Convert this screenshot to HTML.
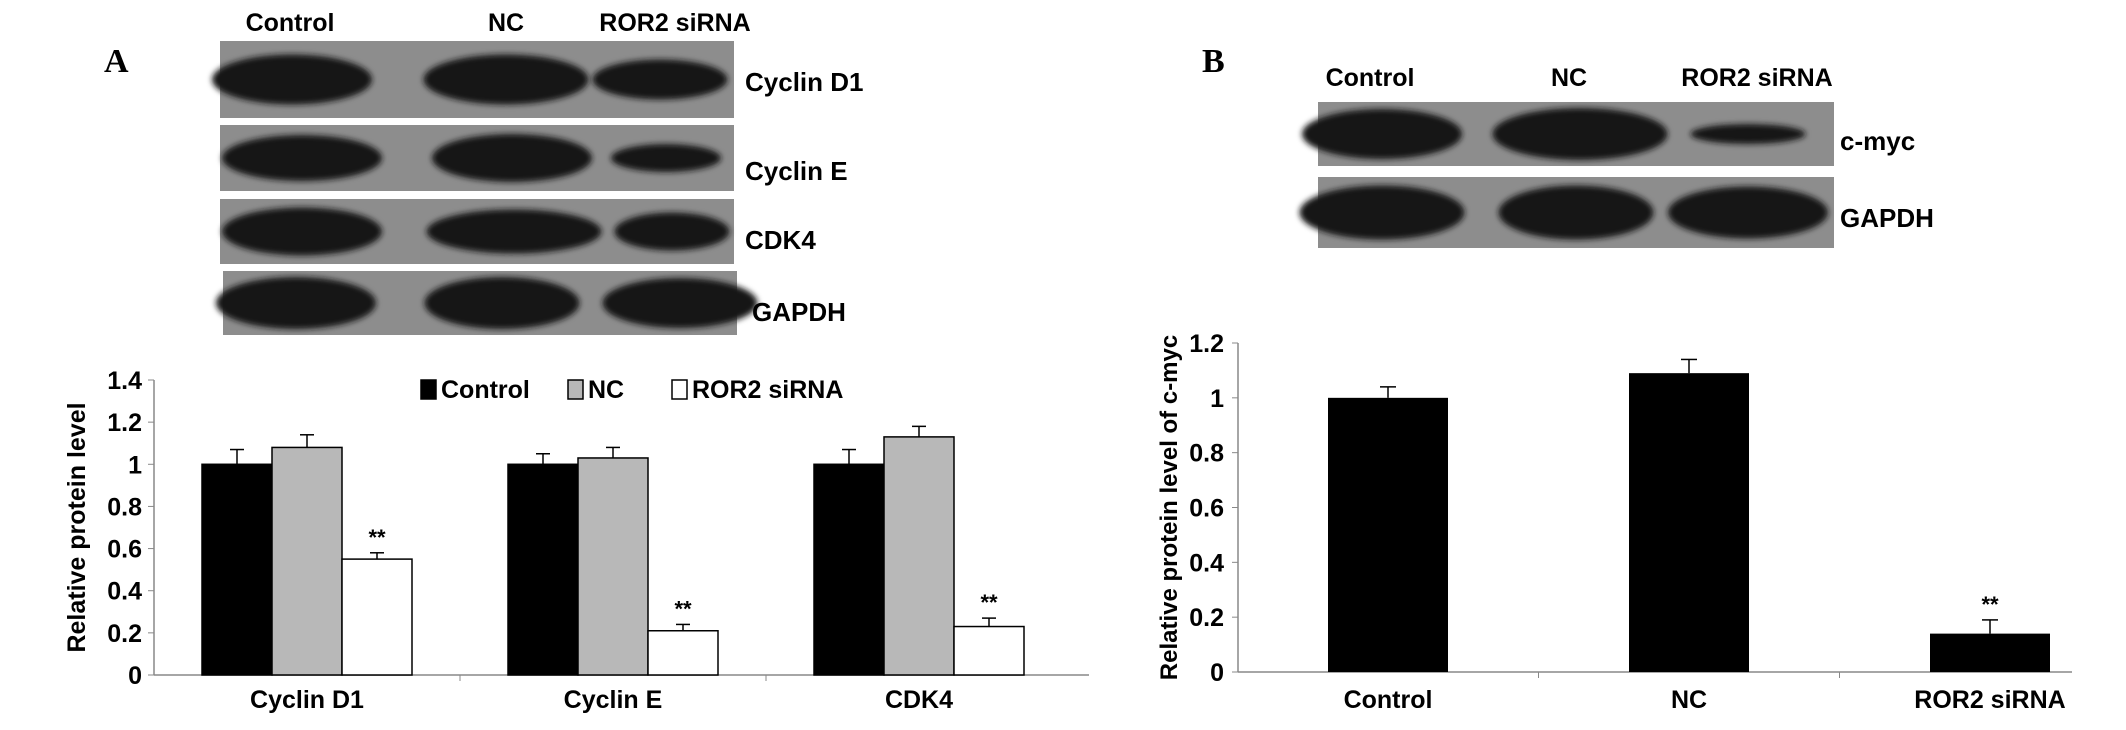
<!DOCTYPE html>
<html><head><meta charset="utf-8"><style>
body{margin:0;background:#fff}
svg text{font-family:"Liberation Sans",Arial,sans-serif;font-weight:bold;fill:#000}
</style></head><body>
<svg id="fig" width="2126" height="725" viewBox="0 0 2126 725" xmlns="http://www.w3.org/2000/svg">
<defs><filter id="bl" x="-20%" y="-50%" width="140%" height="200%"><feGaussianBlur stdDeviation="3"/></filter></defs>
<g id="panelA">
<text x="104" y="72" style="font-family:'Liberation Serif',serif" font-size="34">A</text>
<text x="290" y="31" font-size="25" text-anchor="middle">Control</text>
<text x="506" y="31" font-size="25" text-anchor="middle">NC</text>
<text x="675" y="31" font-size="25" text-anchor="middle">ROR2 siRNA</text>
</g>
<g id="panelB">
<text x="1202" y="72" style="font-family:'Liberation Serif',serif" font-size="34">B</text>
<text x="1370" y="86" font-size="25" text-anchor="middle">Control</text>
<text x="1569" y="86" font-size="25" text-anchor="middle">NC</text>
<text x="1757" y="86" font-size="25" text-anchor="middle">ROR2 siRNA</text>
</g>
<g id="blots"></g>
<g id="chartA"></g>
<g id="chartB"></g>
</svg>
<script>
const NS="http://www.w3.org/2000/svg";
function mk(p,t,a){const e=document.createElementNS(NS,t);for(const k in a)e.setAttribute(k,a[k]);p.appendChild(e);return e;}
const blots=[
 [220,41,514,77,"Cyclin D1",745,91,[[292,160,50],[506,165,50],[660,135,40]]],
 [220,125,514,66,"Cyclin E",745,180,[[302,160,46],[512,160,48],[666,110,28]]],
 [220,199,514,65,"CDK4",745,249,[[302,160,48],[514,175,44],[672,115,38]]],
 [223,271,514,64,"GAPDH",752,321,[[296,160,52],[502,155,52],[680,155,50]]],
 [1318,102,516,64,"c-myc",1840,150,[[1382,160,50],[1580,175,52],[1748,115,20]]],
 [1318,177,516,71,"GAPDH",1840,227,[[1382,165,54],[1576,155,54],[1748,160,52]]]
];
const bg=document.getElementById('blots');
blots.forEach(b=>{
 const g=mk(bg,'g',{});
 
 
 mk(g,'rect',{x:b[0],y:b[1],width:b[2],height:b[3],fill:'#8d8d8d'});
 b[7].forEach(bd=>mk(g,'ellipse',{cx:bd[0],cy:b[1]+b[3]/2,rx:bd[1]/2,ry:bd[2]/2,fill:'#121212',filter:'url(#bl)'}));
 const t=mk(g,'text',{x:b[5],y:b[6],'font-size':26});t.textContent=b[4];
});

// Chart A data
const catsA=["Cyclin D1","Cyclin E","CDK4"];
const seriesA=["Control","NC","ROR2 siRNA"];
const ctrlA=[1.0,1.0,1.0];
const ncA=[1.08,1.03,1.13];
const rorA=[0.55,0.21,0.23];
const ctrlErrA=[0.07,0.05,0.07];
const ncErrA=[0.06,0.05,0.05];
const rorErrA=[0.03,0.03,0.04];
const ticksA=[0,0.2,0.4,0.6,0.8,1,1.2,1.4];
// Chart B data
const catsB=["Control","NC","ROR2 siRNA"];
const valsB=[1.0,1.09,0.14];
const errB=[0.04,0.05,0.05];
const ticksB=[0,0.2,0.4,0.6,0.8,1,1.2];

(function(){
 const g=document.getElementById('chartA');
 const x0=154,x1=1072,xend=1089,y0=675,ymax=1.4,ytop=380;
 const y=v=>y0-(v/ymax)*(y0-ytop);
 const step=(x1-x0)/catsA.length, bw=70;
 mk(g,'line',{x1:x0,y1:ytop,x2:x0,y2:y0,stroke:'#888','stroke-width':1.5});
 mk(g,'line',{x1:x0,y1:y0,x2:xend,y2:y0,stroke:'#888','stroke-width':1.5});
 ticksA.forEach(t=>{mk(g,'line',{x1:x0-6,y1:y(t),x2:x0,y2:y(t),stroke:'#888'});
  const tx=mk(g,'text',{x:x0-12,y:y(t)+9,'font-size':25,'text-anchor':'end'});tx.textContent=String(t);
  });
 for(let i=1;i<catsA.length;i++)mk(g,'line',{x1:x0+step*i,y1:y0,x2:x0+step*i,y2:y0+6,stroke:'#888'});
 const yl=mk(g,'text',{x:0,y:0,'font-size':25,'text-anchor':'middle',transform:`translate(85,${(ytop+y0)/2}) rotate(-90)`});yl.textContent='Relative protein level';
 
 const fills=['#000','#b8b8b8','#fff'];const vals=[ctrlA,ncA,rorA],errs=[ctrlErrA,ncErrA,rorErrA];
 catsA.forEach((c,i)=>{
  const cx=x0+step*(i+0.5);
  const lb=mk(g,'text',{x:cx,y:725-17,'font-size':25,'text-anchor':'middle'});lb.textContent=c;
  
  seriesA.forEach((s,j)=>{
   const bx=cx+(j-1.5)*bw,v=vals[j][i],e=errs[j][i];
   const r=mk(g,'rect',{x:bx,y:y(v),width:bw,height:y0-y(v),fill:fills[j],stroke:'#000','stroke-width':1.5});
   
   mk(g,'line',{x1:bx+bw/2,y1:y(v),x2:bx+bw/2,y2:y(v+e),stroke:'#000','stroke-width':1.5});
   mk(g,'line',{x1:bx+bw/2-7,y1:y(v+e),x2:bx+bw/2+7,y2:y(v+e),stroke:'#000','stroke-width':1.5});
   if(j==2){const st=mk(g,'text',{x:bx+bw/2,y:y(v+e)-8,'font-size':22,'text-anchor':'middle'});st.textContent='**';
    }
  });
 });
 const lx=[421,568,672];
 seriesA.forEach((s,j)=>{
  const lg=mk(g,'g',{});
  mk(lg,'rect',{x:lx[j],y:380,width:15,height:19,fill:fills[j],stroke:'#000','stroke-width':1.5});
  const t=mk(lg,'text',{x:lx[j]+20,y:398,'font-size':25});t.textContent=s;
 });
})();

(function(){
 const g=document.getElementById('chartB');
 const x0=1238,x1=2072,y0=672,ymax=1.2,ytop=343;
 const y=v=>y0-(v/ymax)*(y0-ytop);
 const step=301,c0=1388,bw=120;
 mk(g,'line',{x1:x0,y1:ytop,x2:x0,y2:y0,stroke:'#888','stroke-width':1.5});
 mk(g,'line',{x1:x0,y1:y0,x2:x1,y2:y0,stroke:'#888','stroke-width':1.5});
 ticksB.forEach(t=>{mk(g,'line',{x1:x0-6,y1:y(t),x2:x0,y2:y(t),stroke:'#888'});
  const tx=mk(g,'text',{x:x0-14,y:y(t)+9,'font-size':25,'text-anchor':'end'});tx.textContent=String(t);
  });
 for(let i=1;i<catsB.length;i++)mk(g,'line',{x1:c0+step*(i-0.5),y1:y0,x2:c0+step*(i-0.5),y2:y0+6,stroke:'#888'});
 const yl=mk(g,'text',{x:0,y:0,'font-size':24,'text-anchor':'middle',transform:`translate(1177,${(ytop+y0)/2}) rotate(-90)`});yl.textContent='Relative protein level of c-myc';
 
 catsB.forEach((c,i)=>{
  const cx=c0+step*i,v=valsB[i],e=errB[i];
  const r=mk(g,'rect',{x:cx-bw/2,y:y(v),width:bw,height:y0-y(v),fill:'#000'});
  
  mk(g,'line',{x1:cx,y1:y(v),x2:cx,y2:y(v+e),stroke:'#000','stroke-width':1.5});
  mk(g,'line',{x1:cx-8,y1:y(v+e),x2:cx+8,y2:y(v+e),stroke:'#000','stroke-width':1.5});
  const lb=mk(g,'text',{x:cx,y:725-17,'font-size':25,'text-anchor':'middle'});lb.textContent=c;
  
  if(i==2){const st=mk(g,'text',{x:cx,y:y(v+e)-8,'font-size':22,'text-anchor':'middle'});st.textContent='**';
   }
 });
})();
</script>
</body></html>
